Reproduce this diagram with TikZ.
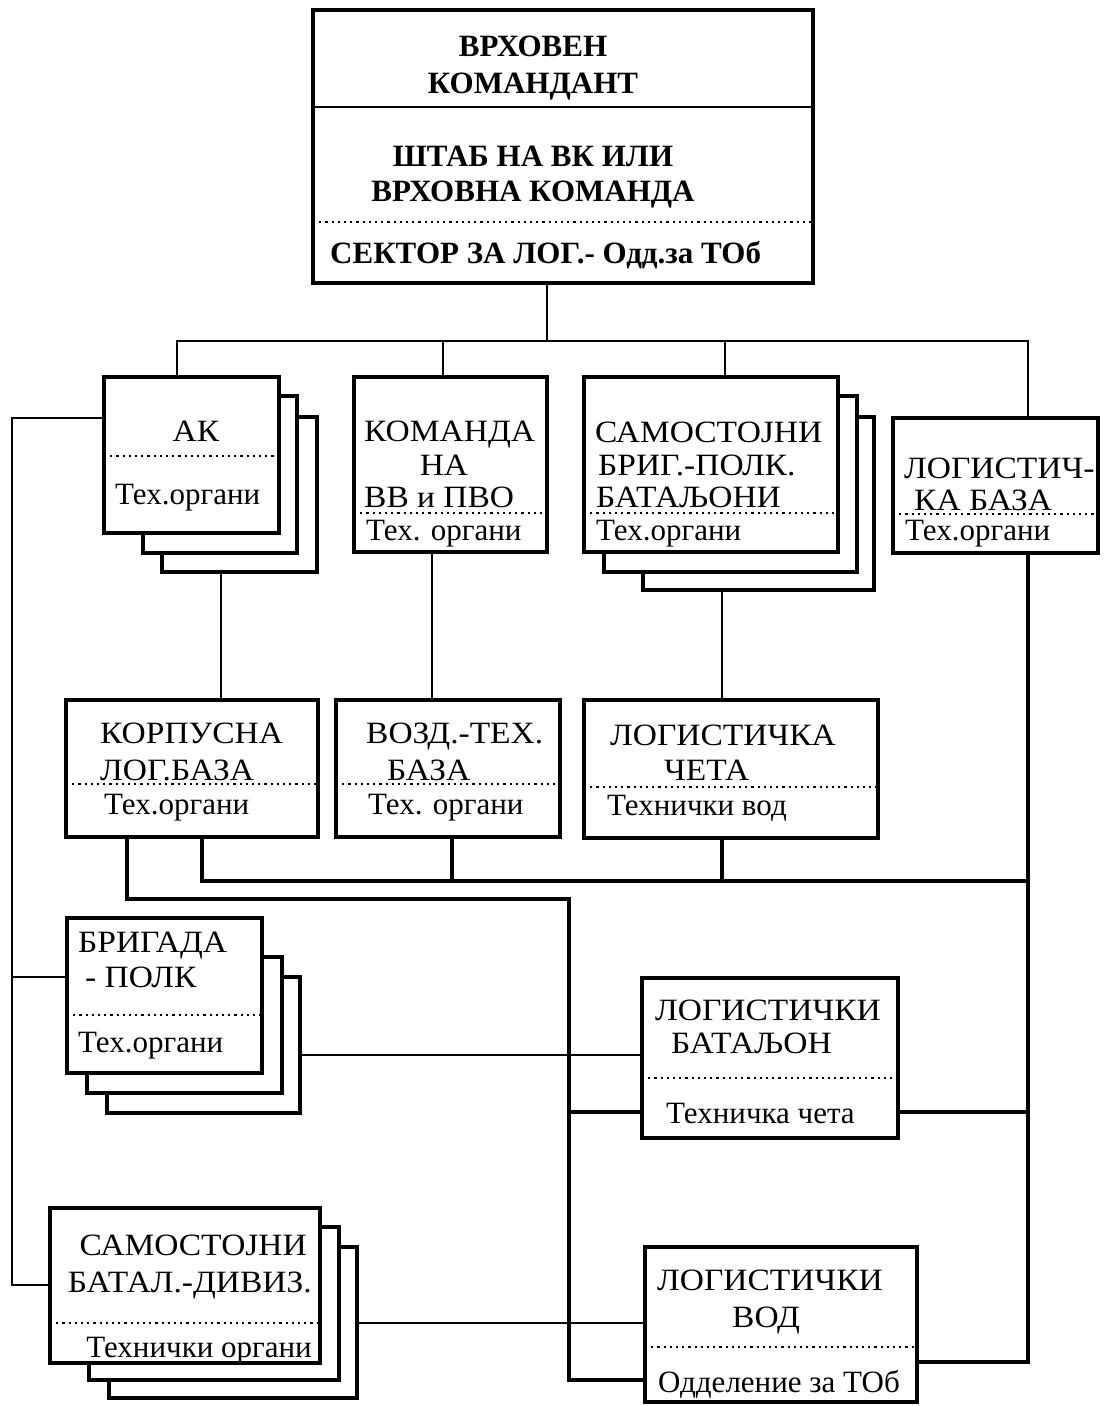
\documentclass[tikz,border=0pt]{standalone}
\usepackage{fontspec}
\setmainfont{Liberation Serif}
\newfontfamily\capsf[FakeStretch=1.08]{Liberation Serif}
\newcommand\mkbox[5]{\node[box, minimum width={(#4)-(#2)}, minimum height={(#5)-(#3)}] (#1) at ({((#2)+(#4))/2},{((#3)+(#5))/2}) {};}
\begin{document}
\begin{tikzpicture}[x=1pt,y=-1pt,
  box/.style={draw, rectangle, line width=4.6pt, fill=white, inner sep=0pt, outer sep=0pt},
  thinln/.style={line width=1.8pt},
  thickln/.style={line width=4pt},
  dotln/.style={line width=2.2pt, dash pattern=on 2.2pt off 4pt},
  lbl/.style={inner sep=0pt, font=\fontsize{31}{35}\selectfont},
  clbl/.style={inner sep=0pt, font=\fontsize{31}{35}\selectfont\capsf},
  blbl/.style={inner sep=0pt, font=\fontsize{31}{35}\selectfont\bfseries}]
\useasboundingbox (0,0) rectangle (1105,1406);
\fill[white] (0,0) rectangle (1105,1406);
% boxes
\mkbox{top}{313}{10}{813}{283}
\mkbox{ak3}{162}{417}{317}{572}
\mkbox{ak2}{143}{396}{297}{553}
\mkbox{ak}{104}{377}{279}{533}
\mkbox{kom}{354}{377}{547}{552}
\mkbox{sam3}{643}{417}{874}{590}
\mkbox{sam2}{604}{396}{857}{572}
\mkbox{sam}{584}{377}{838}{552}
\mkbox{lb}{893}{418}{1098}{553}
\mkbox{korp}{66}{700}{318}{837}
\mkbox{vozd}{336}{700}{560}{837}
\mkbox{ceta}{584}{700}{878}{838}
\mkbox{brig3}{107}{977}{300}{1113}
\mkbox{brig2}{87}{957}{282}{1093}
\mkbox{brig}{67}{918}{262}{1073}
\mkbox{bat}{642}{978}{898}{1138}
\mkbox{sb3}{109}{1247}{357}{1398}
\mkbox{sb2}{89}{1227}{339}{1380}
\mkbox{sb}{50}{1208}{320}{1363}
\mkbox{vod}{645}{1247}{917}{1402}
% inner separators
\draw[line width=1.8pt] (top.west |- 0,107) -- (top.east |- 0,107);
\draw[dotln] (top.west |- 0,222) -- (top.east |- 0,222);
\draw[dotln] (ak.west |- 0,456) -- (ak.east |- 0,456);
\draw[dotln] (kom.west |- 0,513) -- (kom.east |- 0,513);
\draw[dotln] (sam.west |- 0,513) -- (sam.east |- 0,513);
\draw[dotln] (lb.west |- 0,514) -- (lb.east |- 0,514);
\draw[dotln] (korp.west |- 0,784) -- (korp.east |- 0,784);
\draw[dotln] (vozd.west |- 0,784) -- (vozd.east |- 0,784);
\draw[dotln] (ceta.west |- 0,787) -- (ceta.east |- 0,787);
\draw[dotln] (brig.west |- 0,1015) -- (brig.east |- 0,1015);
\draw[dotln] (bat.west |- 0,1078) -- (bat.east |- 0,1078);
\draw[dotln] (sb.west |- 0,1323) -- (sb.east |- 0,1323);
\draw[dotln] (vod.west |- 0,1347) -- (vod.east |- 0,1347);
% connectors
\coordinate (bus) at (547,341);
\coordinate (rj) at (1028,881);
\coordinate (mj) at (569,899);
\coordinate (lj) at (12,977);
\draw[thinln] (top.south -| bus) -- (bus);
\draw[thinln] (ak.north -| 177,0) |- (bus) -| (lb.north -| 1028,0);
\draw[thinln] (kom.north -| 443,0) -- (bus -| 443,0);
\draw[thinln] (sam.north -| 725,0) -- (bus -| 725,0);
\draw[thinln] (ak3.south -| 221,0) -- (korp.north -| 221,0);
\draw[thinln] (kom.south -| 432,0) -- (vozd.north -| 432,0);
\draw[thinln] (sam3.south -| 722,0) -- (ceta.north -| 722,0);
\draw[thickln] (lb.south -| 1028,0) |- (vod.east |- 0,1362);
\draw[thickln] (korp.south -| 202,0) |- (rj);
\draw[thickln] (vozd.south -| 452,0) -- (rj -| 452,0);
\draw[thickln] (ceta.south -| 722,0) -- (rj -| 722,0);
\draw[thickln] (korp.south -| 127,0) |- (mj) |- (vod.west |- 0,1380);
\draw[thickln] (mj |- 0,1112) -- (bat.west |- 0,1112);
\draw[thickln] (bat.east |- 0,1112) -- (rj |- 0,1112);
\draw[thinln] (ak.west |- 0,418) -| (lj) |- (sb.west |- 0,1285);
\draw[thinln] (lj) -- (brig.west |- lj);
\draw[thinln] (brig3.east |- 0,1055) -- (bat.west |- 0,1055);
\draw[thinln] (sb3.east |- 0,1323) -- (vod.west |- 0,1323);
% texts
\node[blbl, anchor=base] (t1) at (533,56) {ВРХОВЕН};
\node[blbl, anchor=base] (t2) at (533,93) {КОМАНДАНТ};
\node[blbl, anchor=base] (t3) at (533,166) {ШТАБ НА ВК ИЛИ};
\node[blbl, anchor=base] (t4) at (533,201) {ВРХОВНА КОМАНДА};
\node[blbl, anchor=base west] (t5) at (330,263) {СЕКТОР ЗА ЛОГ.- Одд.за ТОб};
\node[clbl, anchor=base] (a1) at (196,441) {АК};
\node[lbl, anchor=base west] (a2) at (115,504) {Тех.органи};
\node[clbl, anchor=base west] (k1) at (364,441) {КОМАНДА};
\node[clbl, anchor=base] (k2) at (444,475) {НА};
\node[clbl, anchor=base west] (k3) at (364,507) {ВВ и ПВО};
\node[lbl, anchor=base west] (k4) at (366,540) {Тех. органи};
\node[clbl, anchor=base west] (s1) at (595,442) {САМОСТОЈНИ};
\node[clbl, anchor=base west] (s2) at (598,475) {БРИГ.-ПОЛК.};
\node[clbl, anchor=base west] (s3) at (596,507) {БАТАЉОНИ};
\node[lbl, anchor=base west] (s4) at (596,540) {Тех.органи};
\node[clbl, anchor=base west] (l1) at (904,478) {ЛОГИСТИЧ-};
\node[clbl, anchor=base west] (l2) at (914,510) {КА БАЗА};
\node[lbl, anchor=base west] (l3) at (905,540) {Тех.органи};
\node[clbl, anchor=base west] (p1) at (100,743) {КОРПУСНА};
\node[clbl, anchor=base west] (p2) at (100,780) {ЛОГ.БАЗА};
\node[lbl, anchor=base west] (p3) at (104,814) {Тех.органи};
\node[clbl, anchor=base west] (v1) at (366,743) {ВОЗД.-ТЕХ.};
\node[clbl, anchor=base west] (v2) at (387,780) {БАЗА};
\node[lbl, anchor=base west] (v3) at (368,814) {Тех. органи};
\node[clbl, anchor=base west] (c1) at (610,745) {ЛОГИСТИЧКА};
\node[clbl, anchor=base west] (c2) at (664,780) {ЧЕТА};
\node[lbl, anchor=base west] (c3) at (607,815) {Технички вод};
\node[clbl, anchor=base west] (b1) at (78,952) {БРИГАДА};
\node[clbl, anchor=base west] (b2) at (85,987) {- ПОЛК};
\node[lbl, anchor=base west] (b3) at (78,1052) {Тех.органи};
\node[clbl, anchor=base west] (n1) at (655,1020) {ЛОГИСТИЧКИ};
\node[clbl, anchor=base west] (n2) at (671,1053) {БАТАЉОН};
\node[lbl, anchor=base west] (n3) at (666,1123) {Техничка чета};
\node[clbl, anchor=base east] (m1) at (307,1255) {САМОСТОЈНИ};
\node[clbl, anchor=base east] (m2) at (312,1292) {БАТАЛ.-ДИВИЗ.};
\node[lbl, anchor=base east] (m3) at (312,1357) {Технички органи};
\node[clbl, anchor=base west] (o1) at (657,1290) {ЛОГИСТИЧКИ};
\node[clbl, anchor=base west] (o2) at (732,1327) {ВОД};
\node[lbl, anchor=base west] (o3) at (658,1392) {Одделение за ТОб};
\end{tikzpicture}
\end{document}
